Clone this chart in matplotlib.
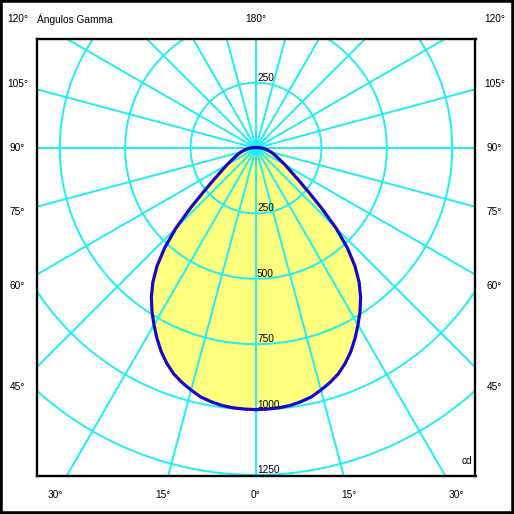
import numpy as np
import matplotlib
matplotlib.use('Agg')
import matplotlib.pyplot as plt
from matplotlib.patches import Rectangle

# luminous intensity (cd) vs gamma angle
gamma = [0, 2.5, 5, 7.5, 10, 12.5, 15, 17.5, 20, 22.5, 25, 27.5, 30, 32.5, 35, 37.5,
         40, 42.5, 45, 47.5, 50, 52.5, 55, 57.5, 60, 62.5, 65, 70, 75, 80, 85, 90,
         95, 100, 110, 120, 135, 150, 165, 180]
intensity = [1000, 999, 997, 993, 985, 975, 958, 940, 919, 891, 858, 820, 780, 740, 697, 648,
             588, 516, 432, 340, 265, 212, 174, 148, 128, 110, 95, 76, 60, 45, 33, 22,
             14, 9, 5, 3, 3, 3, 3, 3]

rings = [250, 500, 750, 1000, 1250]
ring_labels = ['250', '500', '750', '1000', '1250']
side_angles = [45, 60, 75, 90, 105]
bottom_angles = [30, 15, 0, 15, 30]
bottom_sign = [-1, -1, 0, 1, 1]

plt.rcParams['font.family'] = ['Liberation Sans', 'DejaVu Sans']
fs = 7.3
cyan = '#1ef0f0'

fig = plt.figure(figsize=(5.14, 5.14), dpi=100)
ax = fig.add_axes([37/514, 38.5/514, 438.5/514, 436.5/514])
ax.set_xlim(-837, 839)
ax.set_ylim(-1252, 417)
ax.set_xticks([])
ax.set_yticks([])
for s in ax.spines.values():
    s.set_linewidth(1.7)
    s.set_color('black')
    s.set_zorder(10)

g = np.radians(gamma)
I = np.array(intensity, dtype=float)
xr = I*np.sin(g)
yr = -I*np.cos(g)
xs = np.concatenate([xr, -xr[::-1]])
ys = np.concatenate([yr, yr[::-1]])
ax.fill(xs, ys, color='#ffff80', lw=0, zorder=1)

# grid: circles and gamma rays
t = np.linspace(0, 2*np.pi, 400)
for r in rings:
    ax.plot(r*np.cos(t), r*np.sin(t), color=cyan, lw=1.4, zorder=2)
for a in range(0, 360, 15):
    ar = np.radians(a)
    ax.plot([0, 3000*np.sin(ar)], [0, -3000*np.cos(ar)], color=cyan, lw=1.4, zorder=2)

ax.plot(xs, ys, color='#1508c8', lw=2.3, zorder=3, solid_joinstyle='round')

# ring labels
for r, lab in zip(rings, ring_labels):
    ax.text(4, -r, lab, fontsize=fs, ha='left', va='bottom', zorder=4)
ax.text(4, rings[0], ring_labels[0], fontsize=fs, ha='left', va='bottom', zorder=4)
ax.text(825, -1195, 'cd', fontsize=fs, ha='right', va='center', zorder=4)

# gamma labels around the frame
side = 912
for a in side_angles:
    y = -side/np.tan(np.radians(a))
    ax.text(-side, y, '%d°' % a, fontsize=fs, ha='center', va='center', clip_on=False)
    ax.text(side, y, '%d°' % a, fontsize=fs, ha='center', va='center', clip_on=False)
bot = 1326
for a, sg in zip(bottom_angles, bottom_sign):
    x = sg*bot*np.tan(np.radians(a))
    ax.text(x, -bot, '%d°' % a, fontsize=fs, ha='center', va='center', clip_on=False)
top = 493
ax.text(-side, top, '120°', fontsize=fs, ha='center', va='center', clip_on=False)
ax.text(side, top, '120°', fontsize=fs, ha='center', va='center', clip_on=False)
ax.text(0, top, '180°', fontsize=fs, ha='center', va='center', clip_on=False)
ax.text(-837, top, 'Ángulos Gamma', fontsize=fs, ha='left', va='center', clip_on=False)

fig.patches.append(Rectangle((0, 0), 1, 1, transform=fig.transFigure, fill=False,
                             lw=4, ec='black'))

fig.savefig('out.png', dpi=100)
